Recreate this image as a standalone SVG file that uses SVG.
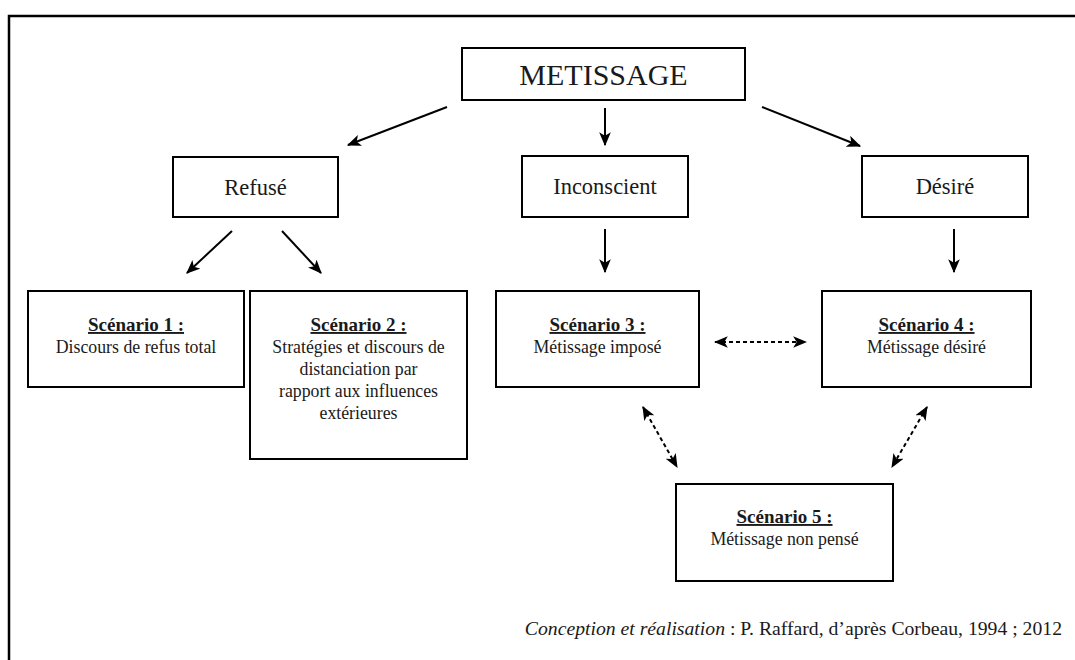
<svg xmlns="http://www.w3.org/2000/svg" width="1075" height="660" viewBox="0 0 1075 660">
<style>
  .box{fill:#fff;stroke:#000;stroke-width:2}
  .t{font-family:"Liberation Serif","Times New Roman",serif;fill:#1a1a1a;text-anchor:middle}
  .big{font-size:30px}
  .mid{font-size:22.5px}
  .h{font-size:19px;font-weight:bold;text-decoration:underline}
  .b{font-size:17.8px}
  .ln{stroke:#000;stroke-width:2;fill:none}
  .dash{stroke:#000;stroke-width:2;fill:none;stroke-dasharray:4 3}
</style>
<defs>
  <marker id="ah" viewBox="0 0 12 10" refX="11" refY="5" markerWidth="7" markerHeight="6" orient="auto-start-reverse" markerUnits="strokeWidth">
    <path d="M0,0 L12,5 L0,10 L3,5 z" fill="#000"/>
  </marker>
</defs>
<rect x="9" y="16" width="1090" height="680" fill="none" stroke="#000" stroke-width="2.5"/>

<g id="connectors">
  <line class="ln" x1="447" y1="107" x2="348" y2="145" marker-end="url(#ah)"/>
  <line class="ln" x1="605" y1="108" x2="605" y2="145" marker-end="url(#ah)"/>
  <line class="ln" x1="762" y1="107" x2="860" y2="146" marker-end="url(#ah)"/>
  <line class="ln" x1="232" y1="231" x2="187" y2="273" marker-end="url(#ah)"/>
  <line class="ln" x1="282" y1="231" x2="321" y2="273" marker-end="url(#ah)"/>
  <line class="ln" x1="605" y1="229" x2="605" y2="272" marker-end="url(#ah)"/>
  <line class="ln" x1="954" y1="229" x2="954" y2="272" marker-end="url(#ah)"/>
  <line class="dash" x1="715" y1="342" x2="806" y2="342" marker-start="url(#ah)" marker-end="url(#ah)"/>
  <line class="dash" x1="643" y1="407" x2="677" y2="467" marker-start="url(#ah)" marker-end="url(#ah)"/>
  <line class="dash" x1="927" y1="407" x2="892" y2="467" marker-start="url(#ah)" marker-end="url(#ah)"/>
</g>

<g id="metissage">
  <rect class="box" x="462" y="48" width="283" height="52"/>
  <text class="t big" x="603.5" y="85">METISSAGE</text>
</g>
<g id="refuse">
  <rect class="box" x="173" y="157" width="165" height="60"/>
  <text class="t mid" x="255.5" y="195">Refusé</text>
</g>
<g id="inconscient">
  <rect class="box" x="522" y="156" width="166" height="61"/>
  <text class="t mid" x="605" y="194">Inconscient</text>
</g>
<g id="desire">
  <rect class="box" x="862" y="156" width="166" height="61"/>
  <text class="t mid" x="945" y="194">Désiré</text>
</g>
<g id="scenario1">
  <rect class="box" x="28" y="291" width="216" height="96"/>
  <text class="t h" x="136" y="331">Scénario 1 :</text>
  <text class="t b" x="136" y="353">Discours de refus total</text>
</g>
<g id="scenario2">
  <rect class="box" x="250" y="291" width="217" height="168"/>
  <text class="t h" x="358.5" y="331">Scénario 2 :</text>
  <text class="t b" x="358.5" y="353">Stratégies et discours de</text>
  <text class="t b" x="358.5" y="375">distanciation par</text>
  <text class="t b" x="358.5" y="397">rapport aux influences</text>
  <text class="t b" x="358.5" y="419">extérieures</text>
</g>
<g id="scenario3">
  <rect class="box" x="496" y="291" width="203" height="96"/>
  <text class="t h" x="597.5" y="331">Scénario 3 :</text>
  <text class="t b" x="597.5" y="353">Métissage imposé</text>
</g>
<g id="scenario4">
  <rect class="box" x="822" y="291" width="209" height="96"/>
  <text class="t h" x="926.5" y="331">Scénario 4 :</text>
  <text class="t b" x="926.5" y="353">Métissage désiré</text>
</g>
<g id="scenario5">
  <rect class="box" x="676" y="484" width="217" height="97"/>
  <text class="t h" x="784.5" y="523">Scénario 5 :</text>
  <text class="t b" x="784.5" y="545">Métissage non pensé</text>
</g>
<g id="footer">
  <text class="t" style="text-anchor:end;font-size:19.7px" x="1062" y="635"><tspan font-style="italic">Conception et réalisation</tspan> : P. Raffard, d’après Corbeau, 1994 ; 2012</text>
</g>
</svg>
